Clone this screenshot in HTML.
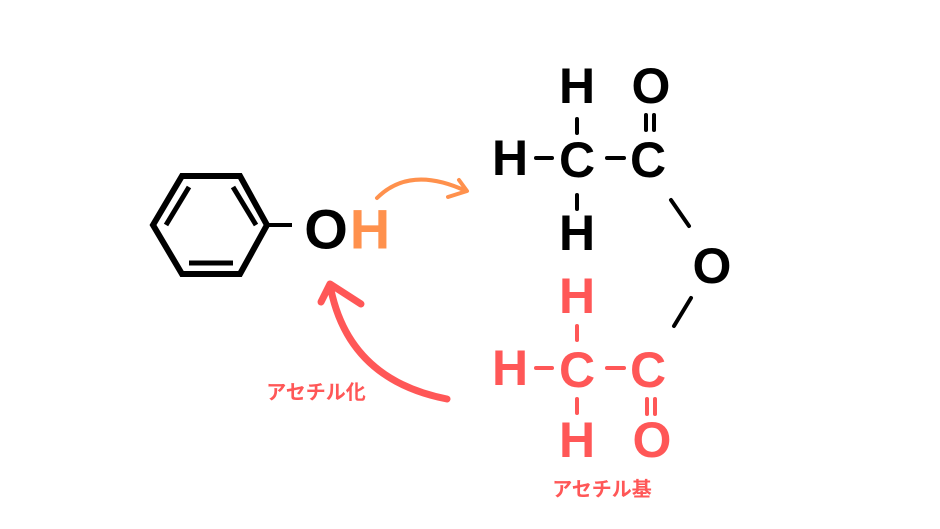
<!DOCTYPE html>
<html><head><meta charset="utf-8"><style>
html,body{margin:0;padding:0;background:#fff;}
svg{display:block;}
text{font-family:"Liberation Sans","Noto Sans CJK JP",sans-serif;font-weight:bold;text-anchor:middle;dominant-baseline:central;}
.b{font-size:50px;}
</style></head><body>
<svg width="940" height="529" viewBox="0 0 940 529" xmlns="http://www.w3.org/2000/svg">
<g stroke="#000" stroke-width="6" fill="none" stroke-linejoin="miter">
<polygon points="153,225 182,176 240,176 267,225 240,274 182,274"/>
<line x1="267" y1="225" x2="292" y2="225" stroke-width="4"/>
<line x1="166" y1="225" x2="189" y2="187" stroke-width="5"/>
<line x1="233" y1="187" x2="256" y2="225" stroke-width="5"/>
<line x1="189" y1="263" x2="233" y2="263" stroke-width="5"/>
</g>
<text x="326" y="229" style="font-size:56px" fill="#000">O</text>
<text x="370" y="229" style="font-size:56px" fill="#ff914d">H</text>
<path d="M377,198 Q410,165 466,191" stroke="#ff914d" stroke-width="4" fill="none" stroke-linecap="round"/>
<path d="M459,180 L467,191 L448,197" stroke="#ff914d" stroke-width="4" fill="none" stroke-linecap="round" stroke-linejoin="round"/>
<path d="M447,399 Q350,380 331,290" stroke="#ff5757" stroke-width="7" fill="none" stroke-linecap="round"/>
<path d="M321,302 L330,284 L361,304" stroke="#ff5757" stroke-width="7" fill="none" stroke-linecap="round" stroke-linejoin="round"/>
<g fill="#000" class="b">
<text x="577" y="86" class="b">H</text>
<text x="510" y="158" class="b">H</text>
<text x="577" y="160" class="b">C</text>
<text x="648" y="160" class="b">C</text>
<text x="651" y="86" class="b">O</text>
<text x="577" y="233" class="b">H</text>
<text x="712" y="266" class="b">O</text>
</g>
<g stroke="#000" stroke-width="4" stroke-linecap="round">
<line x1="577" y1="119" x2="577" y2="133"/>
<line x1="577" y1="195" x2="577" y2="209"/>
<line x1="536" y1="158" x2="552" y2="158"/>
<line x1="607" y1="158" x2="624" y2="158"/>
<line x1="646" y1="115" x2="646" y2="130"/>
<line x1="654" y1="115" x2="654" y2="130"/>
<line x1="671" y1="200" x2="689" y2="226"/>
<line x1="691" y1="298" x2="674" y2="326"/>
</g>
<g fill="#ff5757">
<text x="577" y="296" class="b">H</text>
<text x="510" y="368" class="b">H</text>
<text x="577" y="370" class="b">C</text>
<text x="648" y="370" class="b">C</text>
<text x="652" y="440" class="b">O</text>
<text x="577" y="440" class="b">H</text>
</g>
<g stroke="#ff5757" stroke-width="4" stroke-linecap="round">
<line x1="577" y1="326" x2="577" y2="340"/>
<line x1="577" y1="399" x2="577" y2="413"/>
<line x1="536" y1="368" x2="552" y2="368"/>
<line x1="607" y1="368" x2="624" y2="368"/>
<line x1="647" y1="399" x2="647" y2="414"/>
<line x1="655" y1="399" x2="655" y2="414"/>
</g>
<text x="316" y="393" fill="#ff5757" style="font-size:20px">アセチル化</text>
<text x="602" y="490" fill="#ff5757" style="font-size:20px">アセチル基</text>
</svg>
</body></html>
